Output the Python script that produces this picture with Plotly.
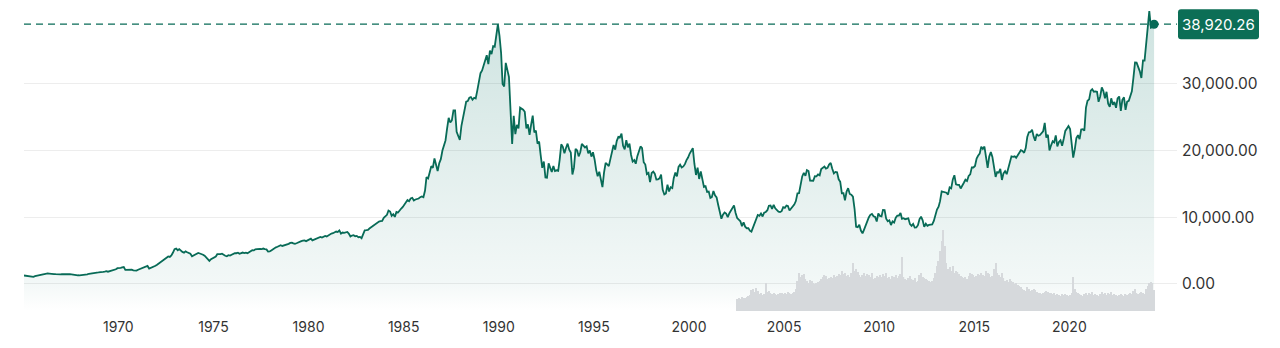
import pandas as pd
import plotly.graph_objects as go

# Nikkei 225 monthly closes (mid-month points), Jan 1965 - Jun 2024
close_1965_1974 = [
    1263, 1230, 1164, 1200, 1171, 1148, 1059, 1171, 1221, 1259, 1360, 1418,
    1470, 1518, 1570, 1565, 1555, 1500, 1500, 1480, 1455, 1420, 1430, 1430,
    1450, 1470, 1480, 1430, 1445, 1470, 1440, 1380, 1360, 1330, 1295, 1283,
    1300, 1350, 1330, 1370, 1420, 1520, 1570, 1600, 1650, 1760, 1700, 1714,
    1780, 1770, 1810, 1850, 1910, 1830, 1880, 1960, 2020, 2050, 2190, 2359,
    2350, 2400, 2480, 2534, 2100, 2130, 2080, 2150, 2130, 2030, 2010, 1987,
    2130, 2220, 2300, 2460, 2510, 2650, 2690, 2310, 2390, 2460, 2530, 2714,
    2880, 3060, 3250, 3440, 3580, 3690, 3950, 4120, 4050, 4260, 4700, 5207,
    5300, 5050, 5220, 4920, 4800, 4680, 4880, 4750, 4620, 4510, 4150, 4306,
    4450, 4600, 4650, 4560, 4500, 4380, 4220, 3900, 3750, 3450, 3700, 3817,
]
close_1975_1984 = [
    3950, 4100, 4450, 4400, 4450, 4520, 4320, 4220, 4150, 4300, 4250, 4358,
    4550, 4620, 4600, 4680, 4520, 4650, 4700, 4620, 4690, 4610, 4760, 4991,
    5050, 5020, 5190, 5220, 5180, 5250, 5220, 5300, 5230, 5180, 4850, 4866,
    5020, 5180, 5420, 5480, 5570, 5700, 5810, 5690, 5760, 5820, 5870, 6001,
    6150, 6190, 6070, 6020, 6090, 6230, 6320, 6420, 6480, 6530, 6410, 6569,
    6650, 6780, 6520, 6620, 6730, 6830, 6920, 7050, 6940, 7100, 7200, 7116,
    7300, 7350, 7550, 7600, 7720, 7850, 7780, 8019, 7530, 7700, 7650, 7682,
    7780, 7500, 7100, 7250, 7300, 7150, 7200, 7000, 7050, 6849, 7400, 8017,
    8050, 8100, 8300, 8500, 8650, 8800, 9000, 9150, 9350, 9400, 9450, 9893,
    10150, 10350, 11000, 10850, 10200, 10450, 10050, 10800, 10700, 11100, 11300, 11543,
]
close_1985_1994 = [
    11850, 12200, 12580, 12400, 12800, 12900, 12500, 12650, 12700, 12800, 13000, 13113,
    13000, 14000, 16000, 15800, 16700, 17650, 17400, 18800, 17850, 16900, 18100, 18701,
    20000, 21000, 21500, 23300, 24900, 24200, 24500, 26000, 26000, 22800, 22000, 21564,
    23700, 25000, 26200, 27300, 27400, 27900, 28000, 27600, 27900, 27800, 29000, 30159,
    31581, 31985, 32838, 33713, 34266, 32948, 34953, 34431, 35636, 35549, 37268, 38915,
    37188, 34591, 29980, 29584, 33131, 31940, 31036, 25978, 20984, 25194, 22455, 23849,
    23293, 26409, 26292, 26111, 25790, 23291, 23900, 22336, 23916, 25222, 22687, 22984,
    21015, 21339, 19346, 17391, 18348, 15952, 15910, 18061, 17399, 16768, 17684, 16925,
    17024, 16953, 18591, 20919, 20552, 19590, 20380, 21027, 20106, 19703, 16408, 17417,
    20229, 19997, 19112, 19726, 20974, 20644, 20449, 20629, 19564, 19990, 19076, 19723,
]
close_1995_2004 = [
    18650, 17053, 16140, 16807, 15437, 14517, 16678, 18117, 17913, 17655, 18744, 19868,
    20813, 20125, 21407, 22041, 21956, 22531, 20693, 20167, 21556, 20467, 21020, 19361,
    18330, 18557, 18003, 19151, 20069, 20605, 20331, 18229, 17888, 16459, 16636, 15259,
    16628, 16831, 16527, 15641, 15671, 15830, 16379, 14108, 13406, 13564, 14883, 13842,
    14499, 14368, 15837, 16701, 16112, 17530, 17862, 17437, 17605, 17942, 18558, 18934,
    19540, 19960, 20337, 17974, 16332, 17411, 15727, 16861, 15747, 14539, 14649, 13786,
    13844, 12883, 12999, 13934, 13262, 12969, 11861, 10714, 9775, 10366, 10697, 10543,
    9998, 10588, 11025, 11493, 11764, 10622, 9877, 9619, 9383, 8640, 9216, 8579,
    8340, 8363, 7973, 7831, 8425, 9083, 9563, 10344, 10219, 10560, 10101, 10677,
    10784, 11042, 11715, 11761, 11236, 11859, 11326, 11082, 10824, 10771, 10899, 11489,
]
close_2005_2014 = [
    11388, 11741, 11669, 11009, 11277, 11584, 11900, 12414, 13574, 13607, 14872, 16111,
    16650, 16205, 17060, 16907, 15468, 15505, 15457, 16141, 16128, 16399, 16274, 17226,
    17383, 17604, 17288, 17400, 17876, 18138, 17249, 16569, 16786, 16738, 15681, 15308,
    13592, 13603, 12526, 13850, 14339, 13482, 13377, 13073, 11260, 8577, 8512, 8860,
    7994, 7568, 8110, 8828, 9523, 9958, 10357, 10493, 10133, 10035, 9346, 10546,
    10198, 10126, 11090, 11057, 9769, 9383, 9537, 8824, 9369, 9202, 9937, 10229,
    10238, 10624, 9755, 9850, 9694, 9816, 9833, 8955, 8700, 8988, 8435, 8455,
    8803, 9723, 10084, 9521, 8543, 9007, 8695, 8840, 8870, 8928, 9446, 10395,
    11139, 11559, 12398, 13861, 13775, 13677, 13668, 13389, 14456, 14328, 15662, 16291,
    14915, 14841, 14828, 14304, 14632, 15162, 15621, 15425, 16174, 16414, 17460, 17451,
]
close_2015_2024 = [
    17674, 18798, 19207, 19520, 20563, 20236, 20585, 18890, 17388, 19083, 19747, 19034,
    17518, 16027, 16759, 16666, 17235, 15576, 16569, 16887, 16450, 17425, 18308, 19114,
    19041, 19119, 18909, 19197, 19651, 20033, 19925, 19646, 20356, 22012, 22725, 22765,
    23098, 22068, 21454, 22468, 22202, 22305, 22554, 22865, 24120, 21920, 22351, 20015,
    20773, 21385, 21206, 22259, 20601, 21276, 21522, 20704, 21756, 22927, 23294, 23657,
    23205, 21143, 18917, 20194, 21878, 22288, 21710, 23140, 23185, 22977, 26434, 27444,
    27663, 28966, 29179, 28813, 28860, 28792, 27284, 28090, 29453, 28893, 27822, 28792,
    27002, 26527, 27821, 26848, 27280, 26393, 27802, 28092, 25937, 27587, 27969, 26095,
    27327, 27446, 28041, 28856, 30888, 33189, 33172, 32619, 31858, 30859, 33487, 33464,
    36287, 39166, 40888, 38406, 38488, 38920.26,
]

# Monthly trading volume (relative units), Jul 2002 - Jun 2024
volume_2002_2009 = [
    12, 13, 12, 14, 13, 13,
    14, 15, 16, 21, 22, 19, 23, 20, 17, 18, 16, 17,
    28, 19, 20, 18, 17, 18, 17, 16, 17, 18, 18, 17,
    18, 17, 19, 18, 17, 18, 19, 22, 30, 38, 34, 36,
    37, 32, 30, 28, 31, 30, 28, 27, 28, 29, 30, 32,
    34, 36, 35, 32, 33, 34, 33, 36, 34, 35, 37, 36,
    40, 37, 38, 35, 36, 34, 38, 48, 40, 42, 39, 36,
    34, 36, 38, 35, 37, 36, 34, 38, 32, 33, 35, 34,
]
volume_2010_2017 = [
    36, 34, 37, 35, 38, 33, 34, 32, 35, 34, 36, 33,
    35, 37, 54, 34, 32, 31, 33, 35, 32, 31, 33, 29,
    30, 36, 38, 34, 33, 32, 31, 30, 29, 30, 33, 38,
    45, 50, 60, 70, 81, 65, 48, 42, 44, 40, 45, 38,
    40, 39, 37, 35, 34, 33, 34, 32, 35, 38, 37, 36,
    34, 35, 37, 36, 38, 36, 35, 40, 38, 37, 34, 35,
    42, 48, 38, 36, 34, 38, 33, 30, 31, 29, 32, 30,
    29, 27, 28, 26, 25, 24, 22, 21, 20, 24, 22, 20,
]
volume_2018_2024 = [
    21, 22, 21, 19, 18, 18, 17, 18, 19, 20, 19, 18,
    18, 17, 18, 16, 17, 16, 15, 17, 16, 17, 16, 15,
    16, 18, 34, 22, 19, 18, 17, 16, 15, 17, 18, 16,
    18, 17, 19, 16, 17, 16, 15, 17, 19, 17, 18, 16,
    18, 17, 19, 16, 17, 16, 15, 16, 17, 16, 15, 17,
    16, 17, 18, 17, 20, 22, 18, 17, 18, 19, 18, 17,
    22, 25, 28, 29, 28, 21,
]

tick_years = ["1970", "1975", "1980", "1985", "1990", "1995",
              "2000", "2005", "2010", "2015", "2020"]
y_ticks = [0, 10000, 20000, 30000]

closes = (close_1965_1974 + close_1975_1984 + close_1985_1994
          + close_1995_2004 + close_2005_2014 + close_2015_2024)
volumes = volume_2002_2009 + volume_2010_2017 + volume_2018_2024

close_dates = pd.date_range("1965-01-01", periods=len(closes), freq="MS") + pd.Timedelta(days=14)
volume_dates = pd.date_range("2002-07-01", periods=len(volumes), freq="MS") + pd.Timedelta(days=14)

last_value = closes[-1]
last_date = close_dates[-1]

TEAL = "#086b57"
Y_MIN, Y_MAX = -4060, 41950
FONT = "Inter, Roboto, 'Noto Sans', sans-serif"

fig = go.Figure()

# volume histogram along the bottom (own hidden axis)
fig.add_trace(go.Bar(
    x=volume_dates, y=volumes, yaxis="y2",
    marker=dict(color="#d6d9dc", line=dict(width=0)),
    hoverinfo="skip", showlegend=False,
))

# floor for the gradient area
fig.add_trace(go.Scatter(
    x=close_dates, y=[Y_MIN] * len(close_dates), mode="lines",
    line=dict(width=0, color="rgba(0,0,0,0)"), hoverinfo="skip", showlegend=False,
))

# price line with vertical gradient fill
fig.add_trace(go.Scatter(
    x=close_dates, y=closes, mode="lines",
    line=dict(color=TEAL, width=1.8),
    fill="tonexty",
    fillgradient=dict(
        type="vertical",
        start=Y_MIN, stop=40000,
        colorscale=[[0, "rgba(0,110,95,0.0)"],
                    [0.1, "rgba(0,110,95,0.05)"],
                    [1, "rgba(0,110,95,0.19)"]],
    ),
    showlegend=False,
))

# last value marker
fig.add_trace(go.Scatter(
    x=[last_date], y=[last_value], mode="markers",
    marker=dict(color=TEAL, size=9),
    hoverinfo="skip", showlegend=False,
))

# dashed reference at the last value
fig.add_shape(
    type="line", xref="paper", yref="y", x0=0, x1=1, y0=last_value, y1=last_value,
    line=dict(color=TEAL, width=1.2, dash="7px,5px"), layer="above",
)

# value badge on the right axis
r = 3
w, h = 81, 30
badge = (f"M {1 + r},{h/2} L {1 + w - r},{h/2} Q {1 + w},{h/2} {1 + w},{h/2 - r} "
         f"L {1 + w},{-h/2 + r} Q {1 + w},{-h/2} {1 + w - r},{-h/2} "
         f"L {1 + r},{-h/2} Q 1,{-h/2} 1,{-h/2 + r} L 1,{h/2 - r} Q 1,{h/2} {1 + r},{h/2} Z")
fig.add_shape(
    type="path", xref="paper", yref="y", xsizemode="pixel", ysizemode="pixel",
    xanchor=1, yanchor=last_value, path=badge,
    fillcolor="#0c6e56", line=dict(width=0), layer="above",
)
fig.add_annotation(
    x=1, xref="paper", y=last_value, yref="y", xanchor="center", yanchor="middle",
    xshift=41.5, yshift=0, text=f"{last_value:,.2f}", showarrow=False,
    font=dict(family=FONT, size=15, color="white"),
)

fig.update_layout(
    width=1280, height=348,
    margin=dict(l=24, r=103, t=4, b=37),
    paper_bgcolor="white", plot_bgcolor="white",
    bargap=0.15,
    xaxis=dict(
        type="date",
        range=["1965-01-15", "2025-08-29"],
        tickvals=[f"{y}-01-01" for y in tick_years],
        ticktext=tick_years,
        showgrid=False, zeroline=False, showline=False, ticks="",
        ticklabelstandoff=6,
        tickfont=dict(family=FONT, size=14, color="#333333"),
    ),
    yaxis=dict(
        range=[Y_MIN, Y_MAX],
        side="right",
        tickvals=y_ticks,
        tickformat=",.2f",
        showgrid=True, gridcolor="#ededed", gridwidth=1,
        zeroline=False, showline=False, ticks="",
        ticklabelstandoff=4,
        tickfont=dict(family=FONT, size=15.5, color="#333333"),
    ),
    yaxis2=dict(
        overlaying="y", range=[0, 307], visible=False, fixedrange=True,
    ),
)

fig.write_html("out.html")
